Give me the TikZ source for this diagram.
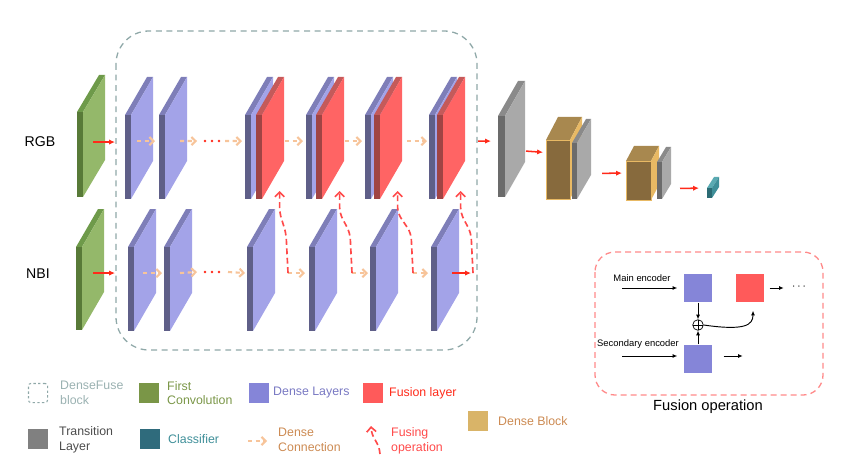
\documentclass[tikz,border=0pt]{standalone}
\usepackage{fontspec}
\setmainfont{Liberation Sans}
\usepackage{tikz}
\usetikzlibrary{calc}
\usetikzlibrary{arrows.meta}
% colours of the slabs: side face, front strip, top strip
\definecolor{greenside}{HTML}{94B86A}
\definecolor{greenfront}{HTML}{587A38}
\definecolor{greentop}{HTML}{6E9A4A}
\definecolor{blueside}{HTML}{A3A3E8}
\definecolor{bluefront}{HTML}{5F5F88}
\definecolor{bluetop}{HTML}{7E7EB8}
\definecolor{redside}{HTML}{FF6464}
\definecolor{redfront}{HTML}{A04444}
\definecolor{redtop}{HTML}{C45A5A}
\definecolor{grayside}{HTML}{A9A9A9}
\definecolor{grayfront}{HTML}{6B6B6B}
\definecolor{graytop}{HTML}{8A8A8A}
\definecolor{tealside}{HTML}{3F8F99}
\definecolor{tealfront}{HTML}{2B6B74}
\definecolor{tealtop}{HTML}{5AAAB2}
\definecolor{tanside}{HTML}{E8B964}
\definecolor{tanfront}{HTML}{876A3D}
\definecolor{tantop}{HTML}{A8884F}
% connectors and frames
\definecolor{arrowred}{HTML}{FF2A1A}
\definecolor{denseorange}{HTML}{F7C49A}
\definecolor{fusered}{HTML}{FF4A4A}
\definecolor{boxteal}{HTML}{8FA8A8}
\definecolor{boxpink}{HTML}{FF8A8A}
% legend
\definecolor{legconv}{HTML}{7A9647}
\definecolor{legdense}{HTML}{8585D8}
\definecolor{legfusion}{HTML}{FF5A5A}
\definecolor{legtrans}{HTML}{808080}
\definecolor{legclass}{HTML}{2F6B7C}
\definecolor{legblock}{HTML}{D9B468}
\definecolor{legbrown}{HTML}{CC8A52}
\tikzset{
	% Three connector styles: solid red, dense connection, fusing operation
	red arrow/.style={draw=arrowred,line width=1.3pt,-{Latex[length=5pt,width=4.5pt]}},
	dense arrow/.style={draw=denseorange,line width=1.8pt,dash pattern=on 3.5pt off 3pt,-{Straight Barb[length=3.5pt,width=7pt]}},
	fuse arrow/.style={draw=fusered,line width=1.4pt,dash pattern=on 5pt off 3pt,-{Straight Barb[length=4pt,width=8pt]}},
	black arrow/.style={draw=black,line width=0.8pt,-{Latex[length=4pt,width=3.5pt]}},
	% Nodes of the fusion panel and the legend
	fuse square/.style={minimum size=24.6pt,inner sep=0},
	legend box/.style={minimum size=16.2pt,inner sep=0},
	legend text/.style={anchor=west,align=left,inner sep=0,font=\fontsize{10.5}{12.5}\selectfont},
	small label/.style={inner sep=0,font=\fontsize{8}{9}\selectfont}
}
\begin{document}
\begin{tikzpicture}[x=0.85pt,y=-0.85pt]
	\useasboundingbox (0,0) rectangle (860,466);
	% macro for a slab: name, x, y, width, height, depth x, depth y, colour
	\newcommand{\slab}[8]{
		\fill[#8top] (#2,#3) -- ++(#6,-#7) -- ++(#4,0) -- ++(-#6,#7) -- cycle;
		\fill[#8side] (#2+#4,#3) -- ++(#6,-#7) -- ++(0,#5) -- ++(-#6,#7) -- cycle;
		\fill[#8front] (#2,#3) rectangle ++(#4,#5);
		\coordinate (#1) at (#2,#3);
		\coordinate (#1-a) at (#2,#3+0.31*#5);
		\coordinate (#1-e) at (#2+#4+#6,#3+0.31*#5);
		\coordinate (#1-b) at (#2+#4+0.8*#6,#3+#5-8);
	}
	% macro for a dense block: name, x, y, width, height, depth x, depth y
	\newcommand{\denseblock}[7]{
		\fill[tantop] (#2,#3) -- ++(#6,-#7) -- ++(#4,0) -- ++(-#6,#7) -- cycle;
		\fill[tanside] (#2+#4,#3) -- ++(#6,-#7) -- ++(0,#5) -- ++(-#6,#7) -- cycle;
		\fill[tanfront,draw=tanside,line width=0.4pt] (#2,#3) rectangle ++(#4,#5);
		\coordinate (#1-a) at (#2,#3+0.31*#5);
	}

	% DenseFuse block
	\draw[boxteal,line width=1.1pt,dash pattern=on 5pt off 4pt,rounded corners=28pt] (116,31) rectangle (477,350);

	\node[font=\fontsize{12}{14}\selectfont] (rgb) at (40,142) {RGB};
	\node[font=\fontsize{12}{14}\selectfont] (nbi) at (38,274) {NBI};

	% RGB branch
	\slab{g1}{77}{112}{6}{85}{22}{37}{green}
	\slab{b1}{125}{115}{6}{84}{22}{38}{blue}
	\slab{b2}{159}{115}{6}{84}{22}{38}{blue}
	\slab{f1b}{245}{115}{6}{84}{22}{38}{blue}
	\slab{f1r}{256}{115}{6}{84}{22}{38}{red}
	\slab{f2b}{306}{115}{6}{84}{22}{38}{blue}
	\slab{f2r}{316}{115}{6}{84}{22}{38}{red}
	\slab{f3b}{365}{115}{6}{84}{22}{38}{blue}
	\slab{f3r}{374}{115}{6}{84}{22}{38}{red}
	\slab{f4b}{429}{115}{6}{84}{22}{38}{blue}
	\slab{f4r}{437}{115}{6}{84}{22}{38}{red}

	% NBI branch
	\slab{g2}{76}{247}{6}{83}{22}{38}{green}
	\slab{n1}{128}{247}{6}{84}{22}{38}{blue}
	\slab{n2}{164}{247}{6}{84}{22}{38}{blue}
	\slab{n3}{247}{247}{6}{84}{22}{38}{blue}
	\slab{n4}{309}{247}{6}{84}{22}{38}{blue}
	\slab{n5}{370}{247}{6}{84}{22}{38}{blue}
	\slab{n6}{431}{247}{6}{84}{22}{38}{blue}

	% transition layers, dense blocks and classifier
	\slab{t1}{498}{116}{7}{81}{20}{35}{gray}
	\denseblock{c1}{546}{140}{24}{59}{12}{23}
	\slab{t2}{572}{143}{5}{56}{14}{24}{gray}
	\denseblock{c2}{626}{161}{25}{39}{8}{15}
	\slab{t3}{657}{162}{5}{37}{9}{15}{gray}
	\slab{cl}{707}{188}{5}{10}{7}{11}{teal}

	% dots between dense layers
	\coordinate (rdots) at (212,141);
	\coordinate (ndots) at (212,272);
	\foreach \k in {-7,0,7}{
		\fill[arrowred] ($(rdots)+(\k,0)$) circle (1.2pt);
		\fill[arrowred] ($(ndots)+(\k,0)$) circle (1.2pt);
	}

	% RGB connectors
	\draw[red arrow] ($(b1-a)+(-32,1)$) -- ($(b1-a)+(-10,1)$);
	\draw[dense arrow] ($(b1-a)+(12,0)$) -- ($(b2-a)+(-4,0)$);
	\draw[dense arrow] ($(b2-a)+(21,0)$) -- ($(rdots)+(-15,0)$);
	\draw[dense arrow] ($(rdots)+(13,0)$) -- ($(f1b-a)+(-3,0)$);
	\draw[dense arrow] ($(f1r-e)+(1,0)$) -- ($(f2b-a)+(-3,0)$);
	\draw[dense arrow] ($(f2r-e)+(1,0)$) -- ($(f3b-a)+(-3,0)$);
	\draw[dense arrow] ($(f3r-e)+(5,0)$) -- ($(f4b-a)+(-2,0)$);
	\draw[red arrow] ($(f4r-e)+(13,0)$) -- ($(t1-a)+(-7,0)$);

	% NBI connectors
	\draw[red arrow] ($(n1-a)+(-35,0)$) -- ($(n1-a)+(-13,0)$);
	\draw[dense arrow] ($(n1-a)+(15,0)$) -- ($(n2-a)+(-2,0)$);
	\draw[dense arrow] ($(n2-a)+(16,0)$) -- ($(ndots)+(-15,0)$);
	\draw[dense arrow] ($(ndots)+(16,0)$) -- ($(n3-a)+(-2,0)$);
	\coordinate (s1) at ($(n3-e)+(13,0)$);
	\coordinate (s2) at ($(n4-e)+(15,0)$);
	\coordinate (s3) at ($(n5-e)+(15,0)$);
	\coordinate (s4) at ($(n6-e)+(14,0)$);
	\draw[dense arrow] (s1) -- ($(n4-a)+(-4,0)$);
	\draw[dense arrow] (s2) -- ($(n5-a)+(-2,0)$);
	\draw[dense arrow] (s3) -- ($(n6-a)+(-3,0)$);
	\draw[red arrow] ($(n6-e)+(-7,0)$) -- ($(s4)+(-2,0)$);

	% fusing operations
	\foreach \s/\f in {s1/f1r,s2/f2r,s3/f3r,s4/f4r}
		\draw[fuse arrow,rounded corners=5pt] (\s) -- ($(\s)+(-2,-40)$) -- ($(\f-b)+(0,22)$) -- (\f-b);

	% towards the classifier
	\draw[red arrow] ($(t1-e)+(1,10)$) -- ($(c1-a)+(-3,-6)$);
	\draw[red arrow] ($(t2-e)+(11,13)$) -- ($(c2-a)+(-4,0)$);
	\draw[red arrow] ($(t3-e)+(9,15)$) -- ($(cl-a)+(-8,-3)$);

	% Fusion operation panel
	\draw[boxpink,line width=1.1pt,dash pattern=on 5pt off 3.5pt,rounded corners=17pt] (595,252) rectangle (823,395);
	\node[font=\fontsize{12.5}{15}\selectfont] (fusop) at (708,407) {Fusion operation};
	\node[fuse square,fill=legdense] (mb) at (698,288) {};
	\node[fuse square,fill=legfusion] (mr) at (750,288) {};
	\node[fuse square,fill=legdense] (sb) at (698,359) {};
	\node[draw,circle,line width=0.6pt,minimum size=9pt,inner sep=0,
		path picture={\draw[line width=0.6pt] (path picture bounding box.north) -- (path picture bounding box.south)
			(path picture bounding box.west) -- (path picture bounding box.east);}] (op) at (698,325) {};
	\node[small label] (mainlab) at (642,278) {Main encoder};
	\node[small label] (seclab) at (638,344) {Secondary encoder};
	\node[inner sep=0] (mdots) at (799,287) {$\cdots$};
	\coordinate (min) at (622,288);
	\coordinate (sin) at (622,356);
	\draw[black arrow] (min) -- ($(mb.west)+(-6,0)$);
	\draw[black arrow] (sin) -- ($(sb.west |- sin)+(-6,0)$);
	\draw[black arrow] (mb.south) -- (op.north);
	\draw[black arrow] (sb.north) -- (op.south);
	\draw[black arrow] (op.east) .. controls (745,331) and (753,325) .. ($(mr.south)+(3,8)$);
	\draw[black arrow] ($(mr.east)+(5,0)$) -- ($(mr.east)+(19,0)$);
	\draw[black arrow] ($(sb.east |- sin)+(11,0)$) -- ($(sb.east |- sin)+(30,0)$);

	% Legend
	\node[legend box,draw=boxteal,line width=0.9pt,dash pattern=on 2pt off 2pt,rounded corners=2pt] (lg1) at (38,393) {};
	\node[legend text,text=boxteal!90] (lt1) at (60,393) {DenseFuse\\block};
	\node[legend box,fill=legconv] (lg2) at (149,393) {};
	\node[legend text,text=legconv] (lt2) at (167,393) {First\\Convolution};
	\node[legend box,fill=legdense] (lg3) at (259,393) {};
	\node[legend text,text=legdense!90!black] (lt3) at (273,393) {Dense Layers};
	\node[legend box,fill=legfusion] (lg4) at (373,393) {};
	\node[legend text,text=arrowred] (lt4) at (389,393) {Fusion layer};
	\node[legend box,fill=legtrans] (lg5) at (38,439) {};
	\node[legend text,text=black!70] (lt5) at (59,440) {Transition\\Layer};
	\node[legend box,fill=legclass] (lg6) at (150,439) {};
	\node[legend text,text=tealside] (lt6) at (168,439) {Classifier};
	\coordinate (lg7a) at (248,441);
	\coordinate (lg7b) at (267,441);
	\draw[dense arrow] (lg7a) -- (lg7b);
	\node[legend text,text=legbrown] (lt7) at (278,440) {Dense\\Connection};
	\coordinate (lg8a) at (380,454);
	\coordinate (lg8b) at (371,426);
	\draw[fuse arrow] (lg8a) .. controls (379,441) and (372,440) .. (lg8b);
	\node[legend text,text=fusered] (lt8) at (391,441) {Fusing\\operation};
	\node[legend box,fill=legblock] (lg9) at (478,421) {};
	\node[legend text,text=legbrown] (lt9) at (498,421) {Dense Block};
\end{tikzpicture}
\end{document}
